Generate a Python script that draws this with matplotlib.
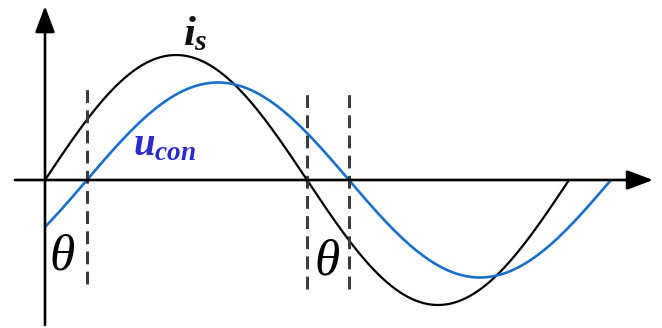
import matplotlib.pyplot as plt
import numpy as np

# sinusoid parameters
period = 2 * np.pi
is_amp = 1.0           # grid current i_s
ucon_amp = 0.78        # converter voltage u_con
theta = 0.16 * np.pi   # phase lag between i_s and u_con
dash_x = [theta, np.pi, np.pi + theta]
dash_top = [0.74, 0.72, 0.72]
dash_bottom = [-0.83, -0.87, -0.87]

plt.rcParams["mathtext.fontset"] = "custom"
plt.rcParams["mathtext.it"] = "Liberation Serif:italic:bold"
plt.rcParams["mathtext.rm"] = "Liberation Serif:bold"

fig = plt.figure(figsize=(6.62, 3.28), dpi=100)
ax = fig.add_axes([0, 0, 1, 1])
ax.set_xlim(-0.5396, 7.398)
ax.set_ylim(-1.184, 1.44)
ax.axis("off")

# axes with arrows
arrow = dict(arrowstyle="-|>,head_length=0.8,head_width=0.3", color="black",
             lw=1.9, mutation_scale=20, shrinkA=0, shrinkB=0)
ax.annotate("", xy=(7.291, 0), xytext=(-0.36, 0), arrowprops=arrow)
ax.annotate("", xy=(0, 1.392), xytext=(0, -1.16), arrowprops=arrow)

t = np.linspace(0, period, 400)
ax.plot(t, is_amp * np.sin(t), color="black", lw=1.6, solid_capstyle="butt")
tu = np.linspace(0, period + theta, 400)
ax.plot(tu, ucon_amp * np.sin(tu - theta), color="#1a6fc8", lw=1.9,
        solid_capstyle="butt")

for x, top, bot in zip(dash_x, dash_top, dash_bottom):
    ax.plot([x, x], [bot, top], color="#3c3c3c", lw=2.2, dashes=(4.2, 2.4))

ax.text(1.66, 1.08, r"$i_s$", fontsize=31, color="#111111",
        ha="left", va="baseline")
ax.text(1.055, 0.2, r"$u_{con}$", fontsize=28, color="#2b2bc8",
        ha="left", va="baseline")
for x, y in [(0.21, -0.616), (3.385, -0.656)]:
    ax.text(x, y, "θ", fontsize=37, family="Liberation Serif", style="italic",
            ha="center", va="center")

fig.savefig("out.png", dpi=100)
